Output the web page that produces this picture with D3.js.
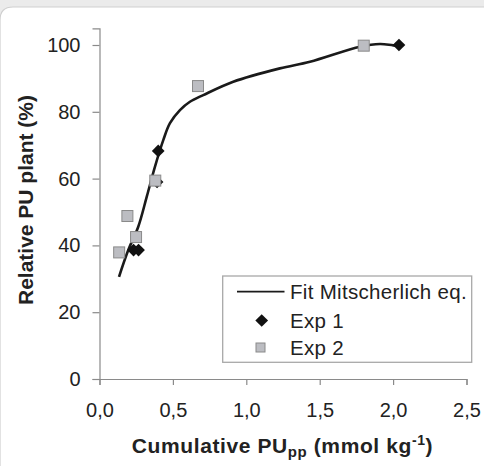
<!DOCTYPE html>
<html><head><meta charset="utf-8">
<script src="https://cdn.jsdelivr.net/npm/d3@7"></script>
<style>
html,body{margin:0;padding:0;background:#ebebeb;}
svg{display:block;}
</style></head>
<body>
<script>
// Data
const exp1X = [0.232, 0.266, 0.392, 0.400, 2.04];
const exp1Y = [38.6, 38.6, 59.0, 68.3, 100];
const exp2X = [0.134, 0.190, 0.249, 0.380, 0.671, 1.80];
const exp2Y = [37.9, 48.8, 42.5, 59.4, 87.7, 99.8];
const fitX = [0.133,0.196,0.264,0.322,0.378,0.435,0.480,0.548,0.616,0.707,0.911,1.229,1.434,1.775,1.911,2.001,2.042];
const fitY = [30.6,38.6,45.6,54.6,63.6,71.6,76.6,80.5,83.0,85.0,89.0,93.0,95.0,99.5,100.3,99.9,99.8];
const xTicks = [0,0.5,1.0,1.5,2.0,2.5];
const yTicks = [0,20,40,60,80,100];
const legendLabels = ["Fit Mitscherlich eq.","Exp 1","Exp 2"];

const W=484,H=466;
const svg=d3.select("body").append("svg").attr("width",W).attr("height",H);
// card
svg.append("path")
  .attr("d",`M0,${H+2} L0,20 Q0,7 13,7 L${W+2},7 L${W+2},${H+2} Z`)
  .attr("fill","#fff").attr("stroke","#cfcfcf").attr("stroke-width",1.2);

const x=d3.scaleLinear().domain([0,2.5]).range([99.5,466.5]);
const y=d3.scaleLinear().domain([0,105]).range([379,28.3]);
const font="'Liberation Sans', Arial, Helvetica, sans-serif";
const fmt=d=>d.toFixed(1).replace(".",",");

const gx=svg.append("g").attr("transform","translate(0,379)")
  .call(d3.axisBottom(x).tickValues(xTicks).tickFormat(fmt).tickSizeOuter(0).tickSize(6).tickPadding(18));
const gy=svg.append("g").attr("transform","translate(99.5,0)")
  .call(d3.axisLeft(y).tickValues(yTicks).tickSizeOuter(0).tickSize(7).tickPadding(12));
[gx,gy].forEach(g=>{
  g.selectAll("path.domain").attr("stroke","#8a8a8a").attr("stroke-width",1.2);
  g.selectAll(".tick line").attr("stroke","#8a8a8a").attr("stroke-width",1.2);
  g.selectAll(".tick text").attr("font-family",font).attr("font-size",20).attr("fill","#222");
});

// fit line
const fit=fitX.map((v,i)=>[v,fitY[i]]);
svg.append("path").datum(fit)
  .attr("d",d3.line().x(d=>x(d[0])).y(d=>y(d[1])).curve(d3.curveCatmullRom.alpha(0.5)))
  .attr("fill","none").attr("stroke","#1a1a1a").attr("stroke-width",2.6);

function diam(sel,cx,cy){
  sel.append("path").attr("d",d3.symbol().type(d3.symbolSquare).size(81)())
    .attr("transform",`translate(${cx},${cy}) rotate(45)`).attr("fill","#111");
}
function sq(sel,cx,cy){
  sel.append("rect").attr("x",cx-5.5).attr("y",cy-5.5).attr("width",11).attr("height",11)
    .attr("fill","#bcbdc2").attr("stroke","#8a8a8a").attr("stroke-width",1);
}
const pts=svg.append("g");
exp1X.forEach((v,i)=>diam(pts,x(v),y(exp1Y[i])));
exp2X.forEach((v,i)=>sq(pts,x(v),y(exp2Y[i])));

// legend
const lg=svg.append("g");
lg.append("rect").attr("x",222.7).attr("y",276).attr("width",249).attr("height",86.3)
  .attr("fill","#fff").attr("stroke","#a8a8a8").attr("stroke-width",1.3);
const rows=[291.7,320.5,347.5];
lg.append("line").attr("x1",237).attr("x2",284.5).attr("y1",rows[0]).attr("y2",rows[0])
  .attr("stroke","#1a1a1a").attr("stroke-width",1.8);
diam(lg,261.7,rows[1]);
lg.append("rect").attr("x",256).attr("y",rows[2]-4.5).attr("width",9).attr("height",9)
  .attr("fill","#bcbdc2").attr("stroke","#8a8a8a").attr("stroke-width",1);
legendLabels.forEach((t,i)=>lg.append("text").attr("x",290).attr("y",rows[i]+7)
  .attr("font-family",font).attr("font-size",20.5).attr("letter-spacing",0.3).attr("fill","#222").text(t));

// axis titles
svg.append("text").attr("transform","translate(33,200) rotate(-90)").attr("text-anchor","middle")
  .attr("font-family",font).attr("font-size",21).attr("font-weight","bold").attr("fill","#222")
  .text("Relative PU plant (%)");
const xt=svg.append("text").attr("x",282.5).attr("y",453).attr("text-anchor","middle")
  .attr("font-family",font).attr("font-size",21).attr("font-weight","bold").attr("letter-spacing",0.6).attr("fill","#222");
xt.append("tspan").text("Cumulative PU");
xt.append("tspan").attr("font-size",15).attr("dy",4).text("pp");
xt.append("tspan").attr("dy",-4).text(" (mmol kg");
xt.append("tspan").attr("font-size",14).attr("dy",-8).text("-1");
xt.append("tspan").attr("dy",8).text(")");
</script>
</body></html>
